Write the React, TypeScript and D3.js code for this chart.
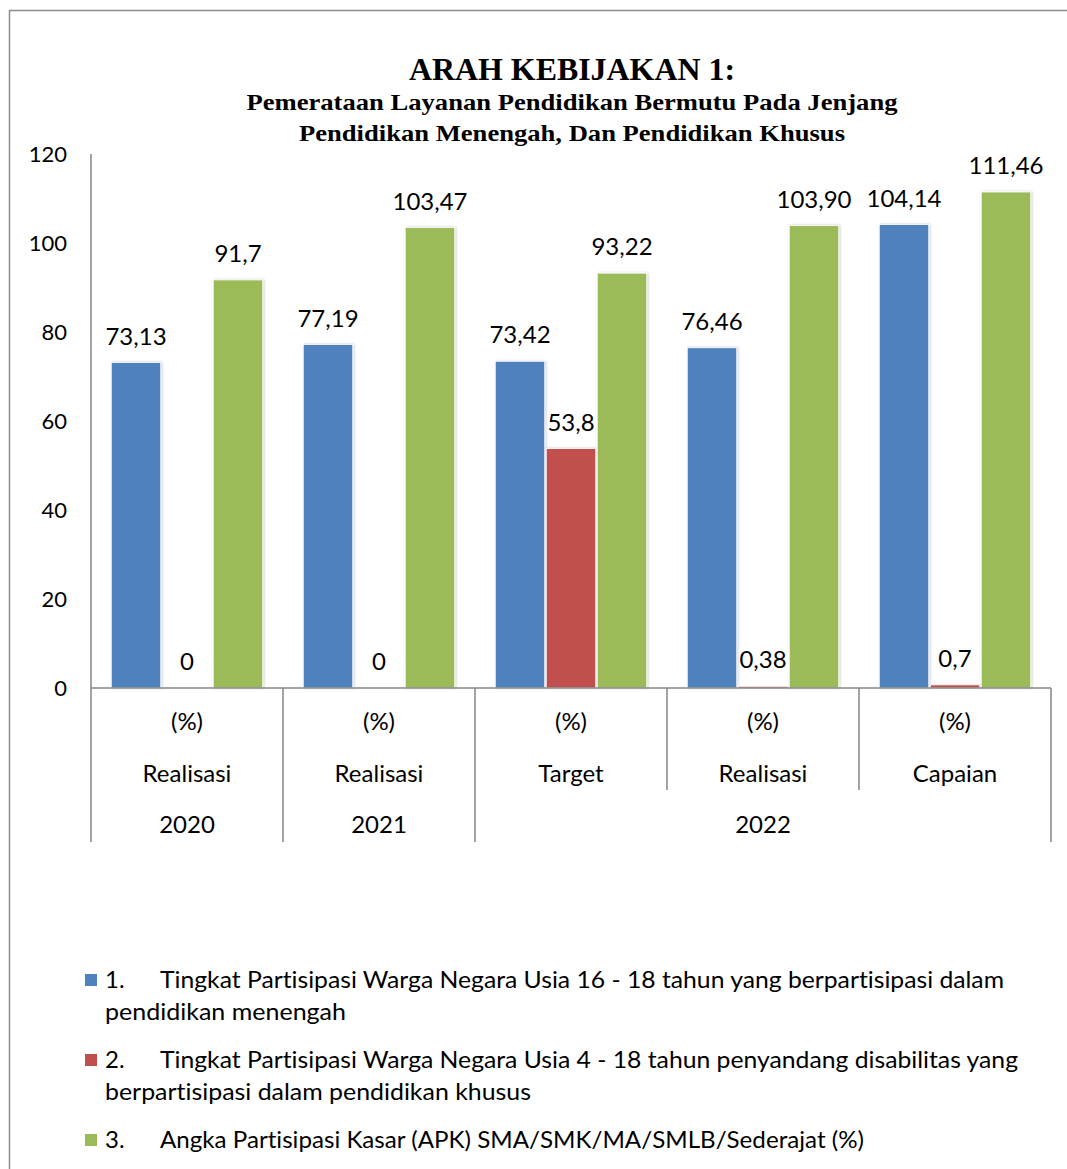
import React from 'react';
import * as d3 from 'd3';

// categories on the x axis
const categories = ['2020 Realisasi', '2021 Realisasi', '2022 Target', '2022 Realisasi', '2022 Capaian'];
const unitLabels = ['(%)', '(%)', '(%)', '(%)', '(%)'];
const kindLabels = ['Realisasi', 'Realisasi', 'Target', 'Realisasi', 'Capaian'];
const yearGroups = [
  { year: '2020', from: 0, to: 0 },
  { year: '2021', from: 1, to: 1 },
  { year: '2022', from: 2, to: 4 },
];

// series values
const seriesKeys = ['s1', 's2', 's3'];
const s1Values = [73.13, 77.19, 73.42, 76.46, 104.14];
const s2Values = [0, 0, 53.8, 0.38, 0.7];
const s3Values = [91.7, 103.47, 93.22, 103.9, 111.46];
const s1Labels = ['73,13', '77,19', '73,42', '76,46', '104,14'];
const s2Labels = ['0', '0', '53,8', '0,38', '0,7'];
const s3Labels = ['91,7', '103,47', '93,22', '103,90', '111,46'];
const seriesColors = ['#4F81BD', '#C0504D', '#9BBB59'];

const yTicks = [0, 20, 40, 60, 80, 100, 120];

const legendItems = [
  {
    num: '1.',
    lines: [
      'Tingkat Partisipasi Warga Negara Usia 16 - 18 tahun yang berpartisipasi dalam',
      'pendidikan menengah',
    ],
    widths: [844, 241],
  },
  {
    num: '2.',
    lines: [
      'Tingkat Partisipasi Warga Negara Usia 4 - 18 tahun penyandang disabilitas yang',
      'berpartisipasi dalam pendidikan khusus',
    ],
    widths: [858, 426],
  },
  {
    num: '3.',
    lines: ['Angka Partisipasi Kasar (APK) SMA/SMK/MA/SMLB/Sederajat (%)'],
    widths: [704],
  },
];

const W = 1067;
const H = 1169;
const sans = 'Lato, "Open Sans", sans-serif';
const serif = '"Liberation Serif", "Times New Roman", serif';
const axisColor = '#868686';
const fs = 24;

export default function App() {
  const plot = { left: 91, right: 1051, top: 154, bottom: 688 };

  const x = d3.scaleBand<string>().domain(categories).range([plot.left, plot.right]).padding(0);
  const bw = x.bandwidth();
  const xs = d3.scaleBand<string>().domain(seriesKeys).range([19.5, bw - 19.5]).padding(0);
  const y = d3.scaleLinear().domain([0, 120]).range([plot.bottom, plot.top]);

  const values = [s1Values, s2Values, s3Values];
  const labels = [s1Labels, s2Labels, s3Labels];

  return (
    <svg
      width={W}
      height={H}
      style={{ position: 'absolute', left: 0, top: 0, background: '#fff', fontVariantLigatures: 'none' }}
    >
      <defs>
        <filter id="shadow" x="-20%" y="-5%" width="140%" height="110%">
          <feDropShadow dx="1" dy="0" stdDeviation="1.2" floodColor="#000" floodOpacity="0.25" />
        </filter>
      </defs>
      <rect x={0} y={0} width={W} height={H} fill="#fff" />
      {/* outer frame */}
      <rect x={9.5} y={10.5} width={1100} height={1200} fill="none" stroke="#8c8c8c" strokeWidth={1.5} />

      {/* title */}
      <text x={572} y={80} textAnchor="middle" fontFamily={serif} fontWeight="bold" fontSize={31}
        textLength={326} lengthAdjust="spacingAndGlyphs">ARAH KEBIJAKAN 1:</text>
      <text x={572} y={110} textAnchor="middle" fontFamily={serif} fontWeight="bold" fontSize={23}
        textLength={651} lengthAdjust="spacingAndGlyphs">Pemerataan Layanan Pendidikan Bermutu Pada Jenjang</text>
      <text x={572} y={141} textAnchor="middle" fontFamily={serif} fontWeight="bold" fontSize={23}
        textLength={546} lengthAdjust="spacingAndGlyphs">Pendidikan Menengah, Dan Pendidikan Khusus</text>

      {/* y tick labels */}
      {yTicks.map((t) => (
        <text key={t} x={67} y={y(t) + 8} textAnchor="end" fontFamily={sans} fontSize={22} fill="#000">
          {t}
        </text>
      ))}

      {/* bars */}
      {categories.map((c, i) => (
        <g key={c} transform={`translate(${x(c)},0)`}>
          {seriesKeys.map((k, j) => {
            const v = values[j][i];
            const bx = xs(k)!;
            const top = y(v);
            return (
              <g key={k}>
                {v > 0 && (
                  <rect
                    x={bx + 0.75}
                    y={top}
                    width={xs.bandwidth() - 1.5}
                    height={plot.bottom - top}
                    fill={seriesColors[j]}
                    stroke="#fff"
                    strokeWidth={0.8}
                    filter="url(#shadow)"
                  />
                )}
                <text
                  x={bx + xs.bandwidth() / 2}
                  y={top - 18}
                  textAnchor="middle"
                  fontFamily={sans}
                  fontSize={fs}
                  fill="#000"
                >
                  {labels[j][i]}
                </text>
              </g>
            );
          })}
        </g>
      ))}

      {/* axes */}
      <line x1={plot.left} x2={plot.left} y1={plot.top} y2={842} stroke={axisColor} strokeWidth={1.5} />
      <line x1={plot.left} x2={plot.right} y1={plot.bottom} y2={plot.bottom} stroke={axisColor} strokeWidth={1.5} />
      {categories.map((c, i) => {
        if (i === 0) return null;
        const xx = x(c)!;
        const inGroup = yearGroups.some((g) => i > g.from && i <= g.to);
        return (
          <line key={c} x1={xx} x2={xx} y1={plot.bottom} y2={inGroup ? 790 : 842} stroke={axisColor} strokeWidth={1.5} />
        );
      })}
      <line x1={plot.right} x2={plot.right} y1={plot.bottom} y2={842} stroke={axisColor} strokeWidth={1.5} />

      {/* category labels */}
      {categories.map((c, i) => (
        <g key={c}>
          <text x={x(c)! + bw / 2} y={730} textAnchor="middle" fontFamily={sans} fontSize={fs}>
            {unitLabels[i]}
          </text>
          <text x={x(c)! + bw / 2} y={782} textAnchor="middle" fontFamily={sans} fontSize={fs}>
            {kindLabels[i]}
          </text>
        </g>
      ))}
      {yearGroups.map((g) => {
        const x0 = x(categories[g.from])!;
        const x1 = x(categories[g.to])! + bw;
        return (
          <text key={g.year} x={(x0 + x1) / 2} y={833} textAnchor="middle" fontFamily={sans} fontSize={fs}>
            {g.year}
          </text>
        );
      })}

      {/* legend */}
      {(() => {
        let lineY = 988;
        return legendItems.map((item, i) => {
          const startY = lineY;
          lineY += item.lines.length * 32 + 16;
          return (
            <g key={item.num}>
              <rect x={85} y={startY - 14} width={12} height={12} fill={seriesColors[i]} />
              <text x={105} y={startY} fontFamily={sans} fontSize={fs}>{item.num}</text>
              <text x={160} y={startY} fontFamily={sans} fontSize={fs}
                textLength={item.widths[0]} lengthAdjust="spacingAndGlyphs">{item.lines[0]}</text>
              {item.lines.slice(1).map((l, k) => (
                <text key={k} x={105} y={startY + 32 * (k + 1)} fontFamily={sans} fontSize={fs}
                  textLength={item.widths[k + 1]} lengthAdjust="spacingAndGlyphs">{l}</text>
              ))}
            </g>
          );
        });
      })()}
    </svg>
  );
}
